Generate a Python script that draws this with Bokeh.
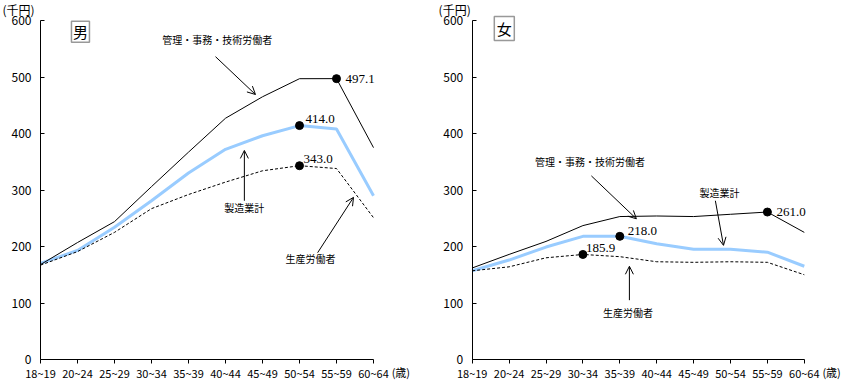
from bokeh.plotting import figure
from bokeh.models import Range1d, Arrow, OpenHead, FixedTicker
from bokeh.layouts import row
from bokeh.core.properties import value
from bokeh.embed import file_html
from bokeh.resources import INLINE

# ---- data ----
categories = ["18~19", "20~24", "25~29", "30~34", "35~39",
              "40~44", "45~49", "50~54", "55~59", "60~64"]
y_ticks = [0, 100, 200, 300, 400, 500, 600]

male_manage = [168, 207, 244, 306, 367, 427, 465, 497.0, 497.1, 375]
male_mfg = [170, 193, 234, 281, 330, 372, 396, 414.0, 408, 290]
male_prod = [167, 191, 225, 267, 292, 314, 334, 343.0, 338, 251]
male_marks = {"manage": 8, "mfg": 7, "prod": 7}

female_manage = [162, 186, 209, 237, 253, 254, 253, 257, 261.0, 225]
female_mfg = [157, 176, 199, 218, 218.0, 205, 195, 195, 190, 165]
female_prod = [157, 164, 180, 185.9, 182, 173, 172, 173, 172, 150]
female_marks = {"manage": 8, "mfg": 4, "prod": 3}

series_names = {"manage": "管理・事務・技術労働者", "mfg": "製造業計", "prod": "生産労働者"}
unit_label = "(千円)"
age_label = "(歳)"

JP = "Noto Sans CJK JP"
NUM = "Liberation Serif"
BLUE = "#99CCFF"

H = 380
Y0_PX = 359          # pixel row of value 0
PX_PER_UNIT = 0.565  # pixels per 1 thousand yen


def make_chart(width, x0_px, spacing, manage, mfg, prod, marks, sex, box_xy, box_wh,
               label_pos, arrows, offsets, unit_x, age_x):
    x_start = -x0_px / spacing
    x_end = (width - x0_px) / spacing
    y_start = -(H - Y0_PX) / PX_PER_UNIT
    y_end = Y0_PX / PX_PER_UNIT
    p = figure(width=width, height=H, x_range=Range1d(x_start, x_end),
               y_range=Range1d(y_start, y_end), title=None,
               output_backend="svg", toolbar_location=None, min_border=0)
    p.outline_line_color = None
    p.xgrid.visible = False
    p.ygrid.visible = False
    p.background_fill_color = "white"
    p.border_fill_color = "white"

    xs = list(range(len(categories)))
    p.line(xs, mfg, line_color=BLUE, line_width=3)
    p.line(xs, manage, line_color="black", line_width=1)
    p.line(xs, prod, line_color="black", line_width=1, line_dash="3 2")

    data = {"manage": manage, "mfg": mfg, "prod": prod}
    for key, idx in marks.items():
        v = data[key][idx]
        p.scatter([idx], [v], size=8, color="black")
        dx, dy = offsets[key]
        p.text([idx], [v], text=[f"{v:.1f}"], x_offset=dx, y_offset=dy,
               text_font=value(NUM), text_font_size="13px", text_align="left",
               text_baseline="middle", text_color="black")

    for key, (lx, ly) in label_pos.items():
        p.text([lx], [ly], text=[series_names[key]], text_font=value(JP),
               text_font_size="10px", text_align="center", text_baseline="middle",
               text_color="black")

    for (xa, ya, xb, yb) in arrows:
        p.add_layout(Arrow(end=OpenHead(size=8, line_width=1, line_color="black"),
                           x_start=xa, y_start=ya, x_end=xb, y_end=yb,
                           line_width=1, line_color="black"))

    bx, by = box_xy
    bw, bh = box_wh
    p.rect([bx], [by], width=bw, height=bh, width_units="screen", height_units="screen",
           fill_color="white", line_color="#999999", line_width=1.5)
    p.text([bx], [by], text=[sex], text_font=value(JP), text_font_size="15px",
           text_align="center", text_baseline="middle", text_color="black")

    p.text([unit_x], [620], text=[unit_label], text_font=value(JP), text_font_size="12px",
           text_align="left", text_baseline="middle", text_color="black")
    p.text([age_x], [-23], text=[age_label], text_font=value(JP), text_font_size="11px",
           text_align="left", text_baseline="middle", text_color="black")

    xa_ = p.xaxis[0]
    ya_ = p.yaxis[0]
    xa_.fixed_location = 0
    ya_.fixed_location = 0
    xa_.bounds = (0, len(categories) - 1)
    ya_.bounds = (y_ticks[0], y_ticks[-1])
    xa_.ticker = FixedTicker(ticks=xs)
    xa_.major_label_overrides = {i: c for i, c in enumerate(categories)}
    xa_.major_tick_in = 0
    xa_.major_tick_out = 4
    xa_.major_label_standoff = 1
    xa_.major_label_text_font_size = "11px"
    ya_.ticker = FixedTicker(ticks=y_ticks)
    ya_.major_tick_in = 4
    ya_.major_tick_out = 0
    ya_.major_label_standoff = 9
    ya_.major_label_text_font_size = "12px"
    for ax in (xa_, ya_):
        ax.minor_tick_line_color = None
        ax.axis_line_color = "black"
        ax.major_tick_line_color = "black"
        ax.major_label_text_font = JP
        ax.major_label_text_color = "black"
    return p


left = make_chart(420, 40, 37.0, male_manage, male_mfg, male_prod, male_marks, "男",
                  (1.08, 580), (18, 21),
                  {"manage": (4.78, 566), "mfg": (5.51, 269), "prod": (7.30, 179)},
                  [(4.73, 536, 5.81, 469), (5.51, 281, 5.51, 370), (7.49, 189, 8.46, 287)],
                  {"manage": (9, 0), "mfg": (6, -7), "prod": (4, -7)},
                  -1.03, 9.49)

right = make_chart(423, 51.7, 36.9, female_manage, female_mfg, female_prod, female_marks, "女",
                   (0.87, 586), (20, 24),
                   {"manage": (3.19, 351), "mfg": (6.70, 295), "prod": (4.22, 83)},
                   [(3.23, 325, 4.45, 249), (6.59, 281, 6.81, 202), (4.26, 105, 4.26, 165)],
                   {"manage": (9, 0), "mfg": (8, -5), "prod": (3, -6)},
                   -0.91, 9.49)

layout = row(left, right)
open("out.html", "w").write(file_html(layout, INLINE))
